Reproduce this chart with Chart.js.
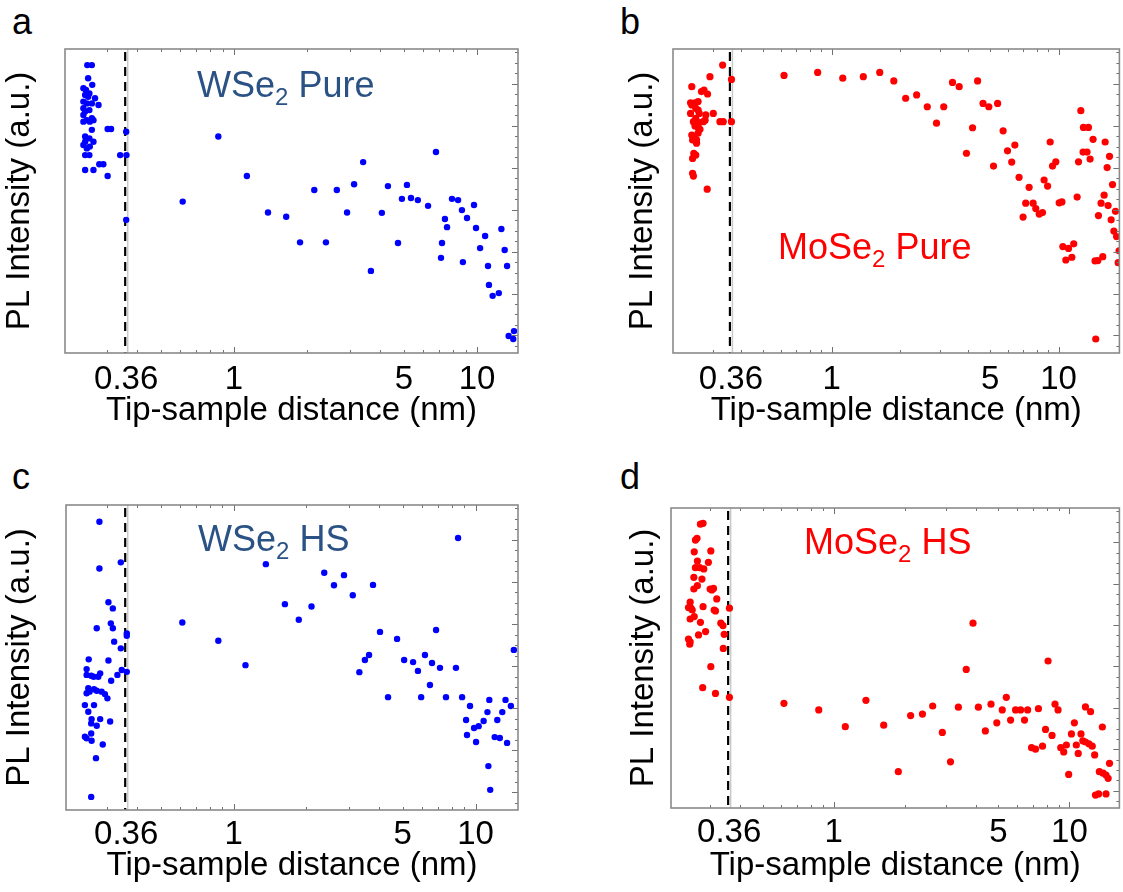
<!DOCTYPE html>
<html><head><meta charset="utf-8">
<script src="https://cdn.jsdelivr.net/npm/chart.js@4.4.1/dist/chart.umd.min.js"></script>
<style>
body{margin:0;background:#fff;width:1123px;height:892px;position:relative;overflow:hidden;font-family:'Liberation Sans',Arial,sans-serif;}
canvas{position:absolute;}
.lbl{position:absolute;font-size:36px;line-height:36px;white-space:nowrap;}
.lbl .s{font-size:24px;position:relative;top:8px;}
.letter{position:absolute;font-size:36px;line-height:36px;color:#000;}
.blue{color:#2a5285;} .red{color:#ff0000;}
</style></head>
<body>
<div class="letter" style="left:12px;top:4px;">a</div>
<div class="letter" style="left:620px;top:4px;">b</div>
<div class="letter" style="left:12px;top:459px;">c</div>
<div class="letter" style="left:620px;top:459px;">d</div>
<canvas id="pa" width="540" height="440" style="left:0;top:0;"></canvas>
<canvas id="pb" width="500" height="440" style="left:623px;top:0;"></canvas>
<canvas id="pc" width="540" height="437" style="left:0;top:455px;"></canvas>
<canvas id="pd" width="499" height="437" style="left:624px;top:455px;"></canvas>
<div class="lbl blue" style="left:197px;top:67px;">WSe<span class="s">2</span> Pure</div>
<div class="lbl red" style="left:778px;top:229px;">MoSe<span class="s">2</span> Pure</div>
<div class="lbl blue" style="left:198px;top:521px;">WSe<span class="s">2</span> HS</div>
<div class="lbl red" style="left:804px;top:524px;">MoSe<span class="s">2</span> HS</div>
<script>
// ---------- data (tip-sample distance in nm, PL intensity in a.u. 0-100) ----------
const xTickValues = [0.36, 1, 5, 10];
const xTickLabels = ['0.36', '1', '5', '10'];
const dashDistance = 0.36;

const wsePureDist = [0.249,0.260,0.251,0.261,0.240,0.246,0.254,0.244,0.251,0.268,0.240,0.248,0.277,0.260,0.240,0.244,0.254,0.240,0.260,0.248,0.240,0.255,0.264,0.260,0.302,0.312,0.360,0.244,0.254,0.244,0.264,0.240,0.248,0.255,0.244,0.254,0.340,0.361,0.279,0.290,0.244,0.264,0.302,0.615,0.360,
 0.862,1.13,1.38,1.64,1.87,2.14,2.39,2.65,2.92,3.12,3.40,3.66,4.06,4.30,4.73,4.91,5.15,5.35,5.71,6.29,6.78,7.38,7.53,7.18,7.11,7.89,8.36,8.67,9.10,8.75,9.72,9.91,10.3,10.8,11.1,11.2,11.6,12.3,12.6,13.0,13.3,13.5,14.2,14.1];
const wsePureInt = [94.7,94.7,90.4,88.2,87.1,86.5,85.4,84.9,84.3,83.8,82.7,82.1,81.6,82.1,80.5,79.4,79.9,78.3,77.2,76.6,76.1,76.1,76.6,73.4,73.7,73.7,72.8,71.2,70.6,69.5,69.5,68.4,67.3,67.9,65.1,65.1,65.1,65.1,62.1,62.1,60.2,60.2,58.2,49.8,43.8,
 71.2,58.2,46.2,44.8,36.4,53.6,36.4,53.6,46.2,55.5,62.8,27.0,46.1,54.9,36.2,50.7,55.3,51.0,50.3,48.4,66.1,44.1,41.4,36.2,31.3,50.7,50.3,47.0,44.4,29.9,48.7,41.1,34.5,38.5,28.6,22.4,18.8,19.7,40.8,33.9,28.6,5.6,7.2,4.6];

const mosePureDist = [0.331,0.291,0.362,0.242,0.267,0.274,0.284,0.239,0.250,0.258,0.242,0.252,0.258,0.239,0.261,0.279,0.301,0.252,0.246,0.261,0.272,0.277,0.322,0.333,0.362,0.250,0.258,0.263,0.242,0.248,0.258,0.244,0.254,0.254,0.247,0.252,0.244,0.244,0.246,0.283,
 0.617,0.868,1.12,1.38,1.63,1.88,2.12,2.37,2.64,3.12,2.90,3.41,3.65,4.40,3.93,4.18,4.65,4.93,5.39,5.17,5.70,5.96,6.42,6.22,6.70,7.42,7.17,7.73,6.98,7.94,8.22,8.50,8.64,8.95,9.19,9.41,9.73,10.07,10.35,10.45,11.07,11.67,10.77,11.45,12.08,12.25,12.54,12.88,13.55,12.83,13.36,13.78,14.20,14.49,14.90,14.59,15.67,15.00,15.40,15.89,16.05,16.78,16.38,17.30,16.54,17.83,17.06,17.54,18.03,18.49,18.32];
const mosePureInt = [94.7,90.9,90.0,87.6,86.0,86.5,85.2,82.3,82.3,82.7,81.6,80.5,79.9,78.8,78.8,78.3,78.8,77.2,76.1,75.8,76.1,76.6,76.1,76.1,76.1,74.7,74.2,73.6,71.7,71.2,72.3,70.1,70.1,69.0,65.7,65.1,64.0,59.1,58.2,53.9,
 91.3,92.3,90.4,90.9,92.3,89.5,83.8,84.9,81.0,81.0,75.6,89.0,87.6,89.5,65.7,74.1,82.1,81.0,82.1,61.5,73.1,66.5,68.4,62.8,57.8,54.5,49.3,49.3,44.7,47.5,45.7,46.2,56.9,54.9,69.4,61.5,62.9,49.4,49.7,35.0,34.4,35.9,30.6,31.5,51.3,62.9,79.7,74.2,74.2,66.1,66.1,63.8,70.3,30.3,30.4,4.6,31.7,45.2,49.3,51.9,69.4,64.7,61.0,55.4,48.5,46.6,43.8,40.1,38.3,33.6,29.7];

const wseHSDist = [0.279,0.279,0.342,0.304,0.317,0.272,0.311,0.317,0.362,0.362,0.321,0.342,0.252,0.304,0.247,0.258,0.247,0.264,0.276,0.281,0.362,0.345,0.331,0.312,0.251,0.254,0.265,0.272,0.285,0.294,0.301,0.247,0.243,0.265,0.251,0.259,0.281,0.258,0.272,0.309,0.243,0.258,0.247,0.259,0.288,0.270,0.258,
 0.614,0.865,1.12,1.36,1.63,1.86,2.10,2.37,2.60,2.86,3.11,3.31,3.77,4.03,3.63,3.49,4.35,4.74,5.07,5.52,5.78,5.96,6.18,6.48,6.61,6.87,7.13,7.55,8.30,8.47,8.80,9.14,9.22,9.49,9.86,10.05,10.3,10.8,11.2,11.4,11.5,12.0,12.3,12.6,12.9,13.3,13.5,14.0,14.4,11.3];
const wseHSInt = [94.5,79.2,81.2,68.1,66.1,59.6,61.2,59.6,57.9,57.1,55.2,53.0,49.4,49.0,46.2,44.0,44.3,43.7,43.7,44.8,45.3,45.9,44.3,42.4,39.9,38.8,39.6,39.1,38.8,38.0,36.6,38.3,34.4,34.4,32.2,29.8,29.8,28.4,27.6,29.0,24.0,25.1,23.5,22.7,21.5,17.0,4.3,
 61.5,55.5,47.5,80.6,67.5,62.4,66.7,77.8,73.7,77.0,70.4,45.2,73.8,58.4,50.8,49.2,37.0,56.1,49.2,48.5,45.6,37.0,50.8,41.0,48.2,59.0,46.6,37.0,46.6,89.2,37.0,29.5,24.6,34.1,26.9,22.3,27.5,29.2,32.1,36.1,6.6,23.9,29.5,23.6,32.1,36.1,22.0,34.1,52.5,14.4];

const moseHSDist = [0.272,0.279,0.263,0.259,0.256,0.301,0.264,0.294,0.259,0.270,0.281,0.255,0.276,0.264,0.255,0.299,0.309,0.304,0.319,0.246,0.242,0.248,0.251,0.279,0.311,0.315,0.361,0.256,0.246,0.272,0.332,0.339,0.286,0.267,0.343,0.242,0.246,0.245,0.340,0.301,0.278,0.315,0.361,
 0.615,0.864,1.12,1.37,1.63,1.88,2.12,2.38,2.63,2.89,3.13,3.38,3.65,3.90,4.11,4.40,4.65,4.92,5.19,5.40,5.63,5.91,6.21,6.45,6.65,6.91,7.18,7.39,7.69,7.92,8.12,8.44,8.69,8.95,9.19,9.46,9.71,9.93,10.2,10.5,10.7,10.9,11.2,11.4,11.7,12.1,11.7,12.3,12.5,12.8,13.8,13.4,13.9,14.3,14.6,14.8,12.9,13.3,14.3];
const moseHSInt = [94.6,94.9,89.9,89.3,85.4,85.7,82.3,81.9,80.1,80.1,79.7,76.9,76.3,74.1,73.0,73.0,73.2,72.7,69.7,68.6,66.8,66.6,66.0,67.1,66.0,65.7,66.6,63.8,63.0,61.9,61.6,60.8,58.8,57.7,57.9,56.3,55.4,54.6,53.2,47.1,40.1,38.2,36.9,
 34.9,32.7,27.1,35.9,27.6,12.1,30.8,31.3,34.0,25.2,15.4,33.6,46.2,61.6,33.6,25.7,34.6,28.4,32.7,36.9,29.3,32.7,32.7,29.3,32.7,20.1,19.6,33.1,20.6,26.2,49.0,24.2,34.6,32.7,20.1,18.7,21.0,11.2,24.7,28.4,21.0,18.2,24.7,22.4,22.0,21.4,33.7,32.1,20.6,17.7,27.0,12.1,11.6,11.0,9.9,14.9,4.3,4.7,4.7];

// ---------- rendering ----------
const FONT = "'Liberation Sans', Arial, sans-serif";
const minorX = [0.3,0.4,0.5,0.6,0.7,0.8,0.9,2,3,4,5,6,7,8,9];
const majorX = [1,10];

const decor = {
  id: 'decor',
  beforeDatasetsDraw(chart) {
    const {ctx, chartArea: a, scales: {x}} = chart;
    const px = x.getPixelForValue(dashDistance);
    ctx.save();
    ctx.strokeStyle = '#c9c9c9'; ctx.lineWidth = 1.5;
    ctx.beginPath(); ctx.moveTo(px + 1.5, a.top); ctx.lineTo(px + 1.5, a.bottom); ctx.stroke();
    ctx.strokeStyle = '#000'; ctx.lineWidth = 2.2; ctx.setLineDash([9, 6]);
    ctx.beginPath(); ctx.moveTo(px - 1, a.top + 3); ctx.lineTo(px - 1, a.bottom); ctx.stroke();
    ctx.restore();
  },
  afterDatasetsDraw(chart) {
    const {ctx, chartArea: a, scales: {x, y}} = chart;
    ctx.save();
    ctx.strokeStyle = '#707070'; ctx.lineWidth = 1;
    const tick = (v, len) => {
      if (v < x.min || v > x.max) return;
      const p = Math.round(x.getPixelForValue(v)) + 0.5;
      ctx.beginPath();
      ctx.moveTo(p, a.bottom); ctx.lineTo(p, a.bottom - len);
      ctx.moveTo(p, a.top); ctx.lineTo(p, a.top + len);
      ctx.stroke();
    };
    minorX.forEach(v => tick(v, 3));
    majorX.forEach(v => tick(v, 6));
    for (let k = -1; k < 30; k++) {
      const v = 5.77 + k * 3.45;
      if (v <= y.min || v >= y.max) continue;
      const p = Math.round(y.getPixelForValue(v)) + 0.5;
      const len = ((k % 4) + 4) % 4 === 0 ? 6 : 3;
      ctx.beginPath(); ctx.moveTo(a.right, p); ctx.lineTo(a.right - len, p); ctx.stroke();
    }
    ctx.strokeStyle = '#8a8a8a'; ctx.lineWidth = 1.6;
    ctx.strokeRect(a.left, a.top, a.right - a.left, a.bottom - a.top);
    ctx.restore();
  }
};

function makePanel(id, xs, ys, color, radius, xMin, xMax, yW, padTop, padRight, xH, tickPad, titlePad) {
  new Chart(document.getElementById(id), {
    type: 'scatter',
    data: { datasets: [{ data: xs.map((v, i) => ({x: v, y: ys[i]})), backgroundColor: color, borderWidth: 0, pointRadius: radius, pointHoverRadius: radius }] },
    options: {
      responsive: false, animation: false,
      layout: { padding: { top: padTop, right: padRight, left: 0, bottom: 0 } },
      plugins: { legend: { display: false }, tooltip: { enabled: false } },
      scales: {
        x: {
          type: 'logarithmic', min: xMin, max: xMax,
          grid: { display: false, drawTicks: false }, border: { display: false },
          afterBuildTicks: s => { s.ticks = xTickValues.map(v => ({ value: v })); },
          afterFit: s => { s.height = xH; },
          ticks: { autoSkip: false, maxRotation: 0, padding: tickPad, color: '#000', font: { family: FONT, size: 33 },
                   callback: v => { const i = xTickValues.indexOf(v); return i >= 0 ? xTickLabels[i] : ''; } },
          title: { display: true, text: 'Tip-sample distance (nm)', color: '#000', font: { family: FONT, size: 33 }, padding: { top: 0, bottom: titlePad } }
        },
        y: {
          min: 0, max: 100,
          grid: { display: false, drawTicks: false }, border: { display: false },
          ticks: { display: false },
          afterFit: s => { s.width = yW; },
          title: { display: true, text: 'PL Intensity (a.u.)', color: '#000', font: { family: FONT, size: 33 }, padding: { top: 0, bottom: 0 } }
        }
      }
    },
    plugins: [decor]
  });
}

makePanel('pa', wsePureDist, wsePureInt, '#0000ff', 3.2, 0.2016, 14.75, 65, 49, 22, 87, 7.5, 9);
makePanel('pb', mosePureDist, mosePureInt, '#ff0000', 3.6, 0.2, 18.55, 50, 49, 3, 87, 7.5, 9);
makePanel('pc', wseHSDist, wseHSInt, '#0000ff', 3.2, 0.203, 14.98, 66, 50, 22, 82, 5, 6.6);
makePanel('pd', moseHSDist, moseHSInt, '#ff0000', 3.6, 0.204, 16.3, 47, 53, 2, 84, 5, 6.6);
</script>
</body></html>
